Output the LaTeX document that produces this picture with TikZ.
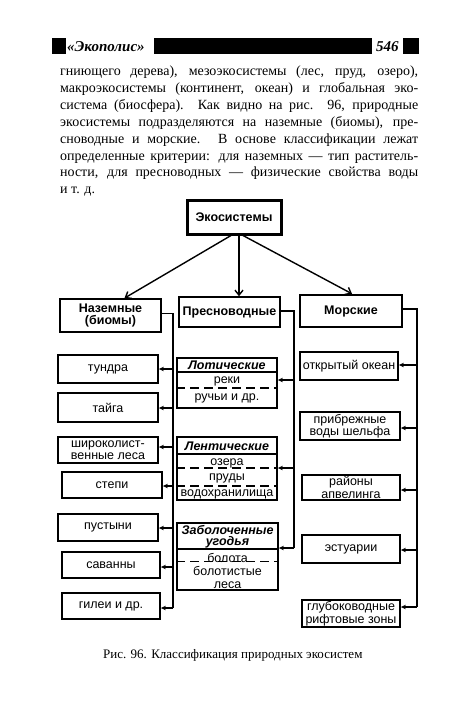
\documentclass[tikz,border=0pt]{standalone}
\usepackage{fontspec}
\setmainfont{Liberation Serif}
\setsansfont{Liberation Sans}
\usetikzlibrary{arrows.meta}
\newcommand\dfont{\sffamily\fontsize{12.5}{12.5}\selectfont}
\newcommand\hfont{\sffamily\bfseries\itshape\fontsize{12.5}{11.5}\selectfont}
\newcommand\tfont{\rmfamily\fontsize{14}{14}\selectfont}
\newcommand\jline[1]{\makebox[358pt][s]{#1}}
\begin{document}
\begin{tikzpicture}[x=1pt,y=-1pt,
  box/.style={draw, line width=1.8pt, inner sep=0pt, align=center, font=\dfont},
  topbox/.style={box, font=\dfont\bfseries},
  cell/.style={inner sep=0pt, font=\dfont, align=center},
  head/.style={inner sep=0pt, font=\hfont, align=center},
  trunk/.style={line width=1.3pt},
  arr/.style={line width=1.3pt, -{Stealth[length=5pt,width=4.5pt]}},
  mainarr/.style={line width=1.4pt, -{Straight Barb[length=5pt,width=8pt]}},
  sep/.style={line width=1.3pt},
  dsep/.style={line width=1.3pt, dash pattern=on 9pt off 5pt},
  txt/.style={inner sep=0pt, anchor=base west, font=\tfont},
  bar/.style={fill=black, draw=none}]
\useasboundingbox[fill=white] (0,0) rectangle (450,707);

% header
\fill[bar] (52,38) rectangle (66,54);
\node[inner sep=0pt, anchor=base west, font=\rmfamily\bfseries\itshape\fontsize{15}{15}\selectfont] (hdr) at (67,51) {«Экополис»};
\fill[bar] (154,38) rectangle (372,54);
\node[inner sep=0pt, anchor=base west, font=\rmfamily\bfseries\itshape\fontsize{15}{15}\selectfont] (pg) at (376,51) {546};
\fill[bar] (403,38) rectangle (419,54);

% body text
\node[txt] (l1) at (60,75.5) {\jline{гниющего дерева), мезоэкосистемы (лес, пруд, озеро),}};
\node[txt] (l2) at (60,92.4) {\jline{макроэкосистемы (континент, океан) и глобальная эко-}};
\node[txt] (l3) at (60,109.3) {\jline{система (биосфера). Как видно на рис. 96, природные}};
\node[txt] (l4) at (60,126.2) {\jline{экосистемы подразделяются на наземные (биомы), пре-}};
\node[txt] (l5) at (60,143.1) {\jline{сноводные и морские. В основе классификации лежат}};
\node[txt] (l6) at (60,160.0) {\jline{определенные критерии: для наземных — тип раститель-}};
\node[txt] (l7) at (60,176.9) {\jline{ности, для пресноводных — физические свойства воды}};
\node[txt] (l8) at (60,193.8) {и т. д.};

% top level
\node[topbox, line width=3pt, minimum width=94pt, minimum height=34pt] (eco) at (234,217) {Экосистемы};
\node[topbox, minimum width=101pt, minimum height=33pt] (land) at (110.5,315.5) {Наземные\\(биомы)};
\node[topbox, line width=1.5pt, minimum width=101pt, minimum height=30pt] (fresh) at (229.5,312) {Пресноводные};
\node[topbox, line width=2.4pt, minimum width=102pt, minimum height=32pt] (sea) at (351,311) {Морские};

\draw[mainarr] ([xshift=-3pt]eco.south) -- ([xshift=14pt]land.north);
\draw[mainarr] ([xshift=5pt]eco.south) -- ([xshift=9.5pt]fresh.north);
\draw[mainarr] ([xshift=9pt]eco.south) -- ([xshift=1pt]sea.north);

% land column
\node[box, minimum width=100pt, minimum height=28pt] (tundra) at (108,369) {тундра};
\node[box, minimum width=100pt, minimum height=29pt] (taiga) at (108,407.5) {тайга};
\node[box, minimum width=100pt, minimum height=26pt] (broad) at (108,450) {широколист-\\венные леса};
\node[box, minimum width=100pt, minimum height=26pt] (steppe) at (112,485) {степи};
\node[box, minimum width=100pt, minimum height=27pt] (desert) at (108,527.5) {пустыни};
\node[box, minimum width=98pt, minimum height=26pt] (savanna) at (111,565) {саванны};
\node[box, minimum width=98pt, minimum height=26pt] (hylaea) at (111,606) {гилеи и др.};

\coordinate (lt1) at (173,369);
\coordinate (lt2) at (173,408);
\coordinate (lt3) at (173,447);
\coordinate (lt4) at (173,486);
\coordinate (lt5) at (173,528);
\coordinate (lt6) at (173,567);
\coordinate (lbot) at (173,608);
\draw[trunk] ([yshift=2pt]land.east) -| (lbot);
\draw[arr] (lbot) -- (hylaea.east |- lbot);
\foreach \c/\n in {lt1/tundra, lt2/taiga, lt3/broad, lt4/steppe, lt5/desert, lt6/savanna}
  \draw[arr] (\c) -- (\n.east |- \c);

% freshwater column
\node[box, minimum width=100pt, minimum height=50pt] (lotic) at (227,383) {};
\node[head] (loticH) at (227,365.5) {Лотические};
\draw[sep] ([yshift=-15pt]lotic.north west) -- ([yshift=-15pt]lotic.north east);
\node[cell] (lotic1) at (227,381) {реки};
\draw[dsep] ([yshift=-31pt]lotic.north west) -- ([yshift=-31pt]lotic.north east);
\node[cell] (lotic2) at (227,398.5) {ручьи и др.};

\node[box, minimum width=100pt, minimum height=63pt] (lentic) at (227,468.5) {};
\node[head] (lenticH) at (227,446) {Лентические};
\draw[sep] ([yshift=-18pt]lentic.north west) -- ([yshift=-18pt]lentic.north east);
\node[cell] (lentic1) at (227,463) {озера};
\draw[dsep] ([yshift=-32pt]lentic.north west) -- ([yshift=-32pt]lentic.north east);
\node[cell] (lentic2) at (227,478) {пруды};
\draw[dsep] ([yshift=-50pt]lentic.north west) -- ([yshift=-50pt]lentic.north east);
\node[cell] (lentic3) at (227,494) {водохранилища};

\node[box, minimum width=101pt, minimum height=67pt] (swamp) at (227.5,556.5) {};
\node[head] (swampH) at (227.5,536.5) {Заболоченные\\угодья};
\draw[sep] ([yshift=-27pt]swamp.north west) -- ([yshift=-27pt]swamp.north east);
\node[cell] (swamp1) at (227.5,557.5) {болота};
\draw[dsep] ([yshift=-39.5pt]swamp.north west) -- ([yshift=-39.5pt]swamp.north east);
\node[cell] (swamp2) at (227.5,577.5) {болотистые\\леса};

\coordinate (ft1) at (294,380);
\coordinate (ft2) at (294,468);
\coordinate (fbot) at (294,548);
\draw[trunk] ([yshift=1pt]fresh.east) -| (fbot);
\draw[arr] (fbot) -- (swamp.east |- fbot);
\draw[arr] (ft1) -- (lotic.east |- ft1);
\draw[arr] (ft2) -- (lentic.east |- ft2);

% marine column
\node[box, minimum width=98pt, minimum height=28pt] (ocean) at (349,366) {открытый океан};
\node[box, minimum width=100pt, minimum height=28pt] (shelf) at (350,426) {прибрежные\\воды шельфа};
\node[box, minimum width=98pt, minimum height=25pt] (upw) at (351,487.5) {районы\\апвелинга};
\node[box, minimum width=98pt, minimum height=28pt] (estuary) at (351,549) {эстуарии};
\node[box, minimum width=98pt, minimum height=27pt] (deep) at (351,613.5) {глубоководные\\рифтовые зоны};

\coordinate (mt1) at (417,365);
\coordinate (mt2) at (417,428);
\coordinate (mt3) at (417,490);
\coordinate (mt4) at (417,550);
\coordinate (mbot) at (417,607);
\draw[trunk] ([yshift=2pt]sea.east) -| (mbot);
\draw[arr] (mbot) -- (deep.east |- mbot);
\foreach \c/\n in {mt1/ocean, mt2/shelf, mt3/upw, mt4/estuary}
  \draw[arr] (\c) -- (\n.east |- \c);

% caption
\node[txt, font=\rmfamily\fontsize{13}{13}\selectfont] (cap) at (103,658) {Рис. 96. Классификация природных экосистем};
\end{tikzpicture}
\end{document}
